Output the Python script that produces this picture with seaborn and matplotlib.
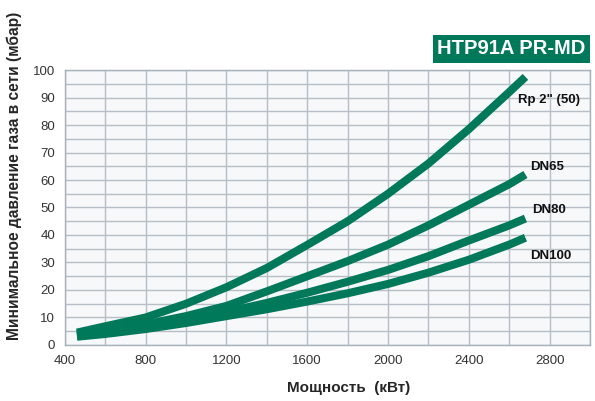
import numpy as np
import pandas as pd
import matplotlib
matplotlib.use("Agg")
import matplotlib.pyplot as plt
import seaborn as sns

# readings from the reference chart
power = [460, 600, 800, 1000, 1200, 1400, 1600, 1800, 2000, 2200, 2400, 2600, 2680]
rp2 = [4.5, 6.8, 10, 15, 21, 28, 36.4, 45, 55, 66, 78.5, 92, 97.5]
dn65 = [4, 5.3, 7.5, 10.5, 14.2, 19.5, 25, 30.5, 36.5, 43.5, 51, 58.5, 62]
dn80 = [3.5, 4.5, 6.5, 9, 12, 15.3, 19, 23, 27.3, 32.3, 38, 43.5, 46]
dn100 = [3, 4, 5.8, 8, 10.5, 13, 15.8, 18.8, 22.2, 26.3, 31, 36.5, 39]
series_names = ['Rp 2" (50)', "DN65", "DN80", "DN100"]

x_ticks = [400, 800, 1200, 1600, 2000, 2400, 2800]
y_ticks = [0, 10, 20, 30, 40, 50, 60, 70, 80, 90, 100]

green = "#00785a"

df = pd.DataFrame({
    "power": power * 4,
    "pressure": rp2 + dn65 + dn80 + dn100,
    "series": np.repeat(series_names, len(power)),
})

sns.set_style("white")
plt.rcParams["font.family"] = ["Liberation Sans", "DejaVu Sans"]

fig = plt.figure(figsize=(5.95, 4.01), dpi=100)
ax = fig.add_axes([0.109, 0.1397, 0.8827, 0.6857])
ax.set_facecolor("#f6f8fa")

sns.lineplot(data=df, x="power", y="pressure", hue="series",
             palette=[green] * 4, linewidth=5.8, legend=False, ax=ax,
             sort=False)
for ln in ax.lines:
    ln.set_solid_capstyle("butt")
    ln.set_solid_joinstyle("round")

ax.set_xlim(400, 3000)
ax.set_ylim(0, 100)
ax.set_xticks(x_ticks)
ax.set_yticks(y_ticks)
ax.set_xticks(np.arange(400, 3001, 200), minor=True)
ax.set_yticks(np.arange(0, 101, 5), minor=True)
ax.grid(which="both", color="#b7bec5", linewidth=1.0)
ax.set_axisbelow(True)
ax.tick_params(which="major", direction="out", length=4, color="#9aa3ab",
               labelsize=9.5, labelcolor="#333333", pad=3)
ax.tick_params(which="minor", length=0)
for s in ax.spines.values():
    s.set_color("#a9b1b8")
    s.set_linewidth(1.0)

ax.set_xlabel("Мощность  (кВт)", fontsize=11, fontweight="bold")
ax.set_ylabel("Минимальное давление газа в сети (мбар)", fontsize=11.2,
              fontweight="bold")
ax.xaxis.set_label_coords(0.541, -0.13)
ax.yaxis.set_label_coords(-0.082, 0.615)

# curve labels
label_pos = [(2645, 89), (2705, 64.8), (2713, 49), (2705, 32.4)]
for name, (lx, ly) in zip(series_names, label_pos):
    ax.text(lx, ly, name, fontsize=9.5, fontweight="bold", color="#111111",
            va="center", ha="left")

# title badge
fig.text(0.984, 0.878, "HTP91A PR-MD", ha="right", va="center",
         fontsize=14.5, fontweight="bold", color="white",
         bbox=dict(boxstyle="square,pad=0.22", facecolor=green,
                   edgecolor="none"))

fig.savefig("out.png", dpi=100)
